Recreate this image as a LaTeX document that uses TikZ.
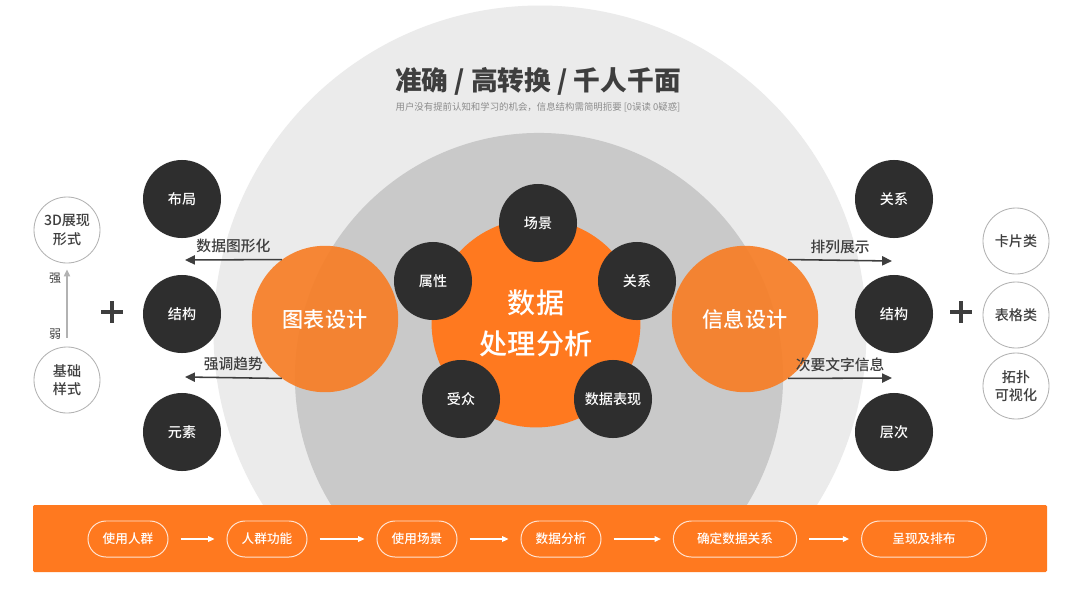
\documentclass[tikz,border=0pt]{standalone}
\usepackage{fontspec}
\setmainfont{Noto Sans CJK SC}
\newfontfamily\medfont{Noto Sans CJK SC Medium}
\usepackage{xcolor}
\definecolor{dgorange}{RGB}{255,121,31}
\definecolor{dgside}{RGB}{247,126,38}
\definecolor{dgdark}{RGB}{46,46,46}
\definecolor{dgtext}{RGB}{62,62,62}
\definecolor{dglight}{RGB}{235,235,235}
\definecolor{dgmid}{RGB}{201,201,201}
\definecolor{dgsub}{RGB}{140,140,140}
\usetikzlibrary{arrows.meta,positioning}

\begin{document}
\begin{tikzpicture}[x=0.025cm, y=-0.025cm, >={Triangle[length=7pt,width=6.5pt]},
    every node/.style={font=\medfont},
    darkdot/.style={circle, fill=dgdark, text=white, minimum size=1.95cm, inner sep=0pt, align=center, font=\fontsize{10}{12}\selectfont\medfont},
    ringdot/.style={circle, draw=black!30, line width=0.6pt, fill=white, text=dgtext, minimum size=1.65cm, inner sep=0pt, align=center, font=\fontsize{10}{13}\selectfont\medfont},
    sidedot/.style={circle, fill=dgside, fill opacity=0.92, text opacity=1, text=white, minimum size=3.66cm, inner sep=0pt, font=\fontsize{15}{18}\selectfont\medfont},
    pill/.style={rectangle, rounded corners=0.45cm, draw=white!80!dgorange, line width=0.7pt, minimum height=0.9cm, minimum width=2cm, text=white, font=\fontsize{9}{11}\selectfont\medfont},
    flow/.style={->, >={Triangle[length=4.5pt,width=4pt]}, white, line width=0.8pt, shorten <=0.3cm, shorten >=0.3cm},
    sidearrow/.style={->, dgtext, line width=1.1pt},
    sidelabel/.style={text=dgtext, font=\fontsize{10.5}{12}\selectfont\medfont},
    plusmark/.style={dgtext, line width=3.2pt}
  ]
    \useasboundingbox[fill=white] (0,0) rectangle (1080,607);

    % Background halves
    \begin{scope}
      \clip (0,0) rectangle (1080,515);
      \fill[dglight] (540,332) circle[radius=8.16cm];
      \fill[dgmid] (539,377) circle[radius=6.1cm];
    \end{scope}

    % Heading
    \node[text=dgtext, font=\fontsize{19}{23}\selectfont\bfseries] (title) at (538,81) {准确 / 高转换 / 千人千面};
    \node[text=dgsub, font=\fontsize{6.7}{8}\selectfont] (subtitle) at (538,107) {用户没有提前认知和学习的机会，信息结构需简明扼要 [0误读 0疑惑]};

    % Core
    \node[circle, fill=dgorange, text=white, minimum size=5.22cm, inner sep=0pt, align=center, font=\fontsize{20}{29}\selectfont\medfont] (core) at (536,323) {数据\\处理分析};
    \node[darkdot] (scene) at (538,223) {场景};
    \node[darkdot] (attr) at (433,281) {属性};
    \node[darkdot] (rel) at (637,281) {关系};
    \node[darkdot] (aud) at (461,399) {受众};
    \node[darkdot] (show) at (613,399) {数据表现};

    % Two design circles
    \node[sidedot] (chart) at (325,319) {图表设计};
    \node[sidedot] (info) at (745,319) {信息设计};

    % Left column
    \node[darkdot] (layout) at (182,199) {布局};
    \node[darkdot] (lstruct) at (182,314) {结构};
    \node[darkdot] (elem) at (182,432) {元素};
    \coordinate (ltop) at (185,260);
    \coordinate (lbot) at (185,377);
    \draw[sidearrow] (chart.126) -- (ltop) node[midway, above=1pt, sidelabel] (lt1) {数据图形化};
    \draw[sidearrow] (chart.234) -- (lbot) node[midway, above=1pt, sidelabel] (lt2) {强调趋势};

    % Right column
    \node[darkdot] (rrel) at (894,199) {关系};
    \node[darkdot] (rstruct) at (894,314) {结构};
    \node[darkdot] (level) at (894,432) {层次};
    \coordinate (rtop) at (892,261);
    \coordinate (rbot) at (892,378);
    \draw[sidearrow] (info.54) -- (rtop) node[midway, above=1pt, sidelabel] (rt1) {排列展示};
    \draw[sidearrow] (info.-54) -- (rbot) node[midway, above=1pt, sidelabel] (rt2) {次要文字信息};

    % Plus signs
    \draw[plusmark] (101,312) -- (123,312) (112,301) -- (112,323);
    \draw[plusmark] (950,312) -- (972,312) (961,301) -- (961,323);

    % Left styles
    \node[ringdot] (deep) at (67,230) {3D展现\\形式};
    \node[ringdot] (base) at (67,380) {基础\\样式};
    \draw[->, >={Triangle[length=5pt,width=4.5pt]}, black!30, line width=0.8pt, shorten <=0.22cm, shorten >=0.15cm] (base) -- (deep);
    \node[text=dgtext, font=\fontsize{8.5}{10}\selectfont] (strong) at (55,278) {强};
    \node[text=dgtext, font=\fontsize{8.5}{10}\selectfont] (weak) at (55,334) {弱};

    % Right styles
    \node[ringdot] (card) at (1016,241) {卡片类};
    \node[ringdot] (table) at (1016,315) {表格类};
    \node[ringdot] (topo) at (1016,386) {拓扑\\可视化};

    % Process bar
    \fill[dgorange, rounded corners=1pt] (33,505) rectangle (1047,572);
    \node[pill] (p1) at (128,539) {使用人群};
    \node[pill] (p2) at (267,539) {人群功能};
    \node[pill] (p3) at (417,539) {使用场景};
    \node[pill] (p4) at (561,539) {数据分析};
    \node[pill, minimum width=3.08cm] (p5) at (735,539) {确定数据关系};
    \node[pill, minimum width=3.12cm] (p6) at (924,539) {呈现及排布};
    \foreach \a/\b in {p1/p2, p2/p3, p3/p4, p4/p5, p5/p6}
      \draw[flow] (\a) -- (\b);
\end{tikzpicture}
\end{document}
